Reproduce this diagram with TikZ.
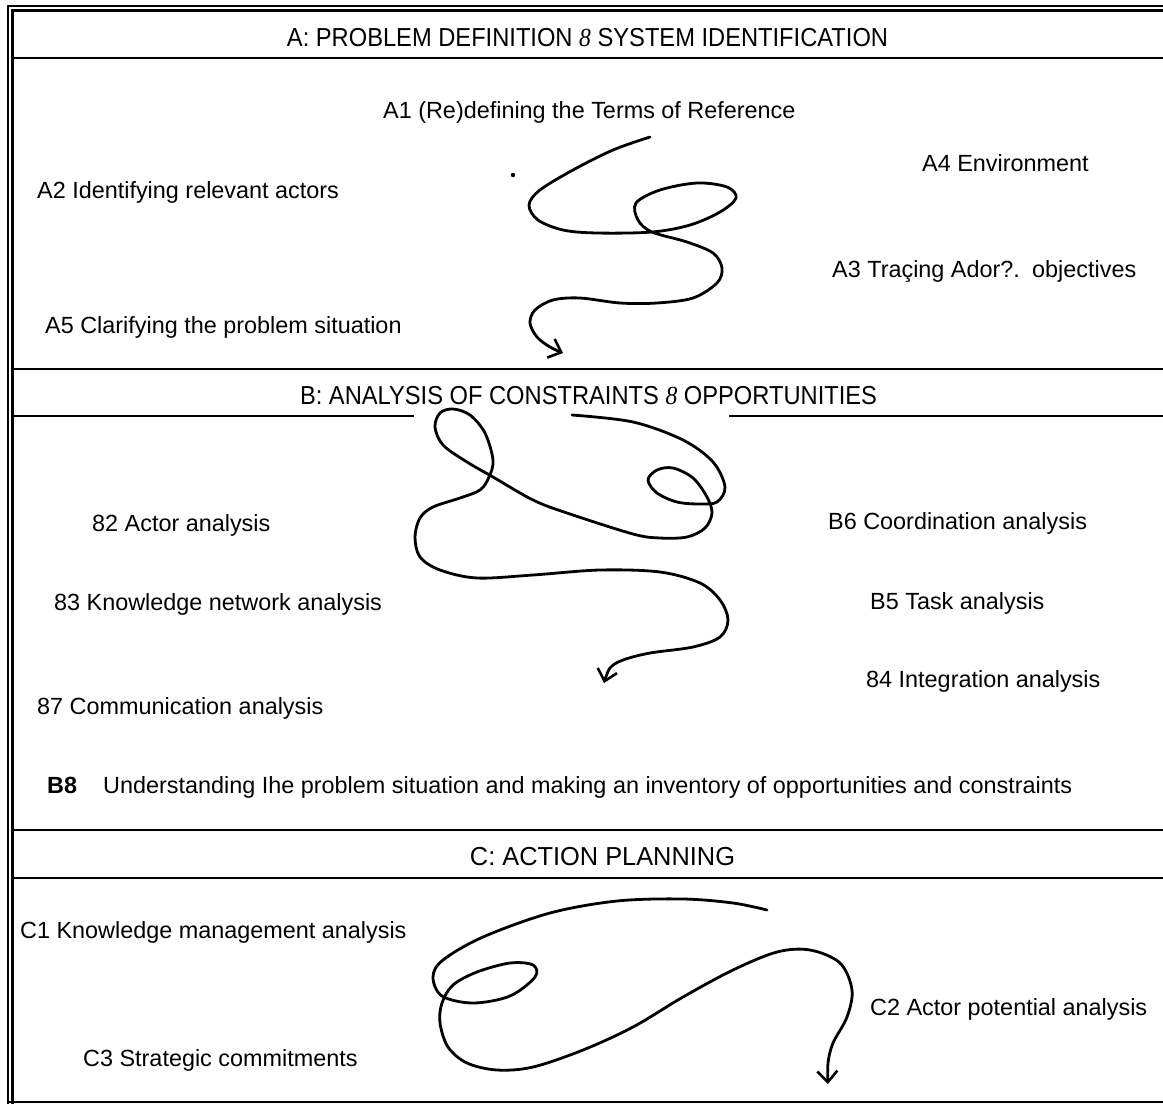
\documentclass[tikz,border=0pt]{standalone}
\usepackage{fontspec}
\setmainfont{Liberation Sans}
\newfontfamily\serifit{Liberation Serif}
\usetikzlibrary{arrows.meta}
\newcommand\lab{\fontsize{23.4}{27}\selectfont}
\newcommand\hd[2]{\resizebox{#1}{\height}{\fontsize{26}{30}\selectfont #2}}
\newcommand\eit{{\serifit\itshape 8}}
\tikzset{
  frame/.style={line width=2.3pt, line cap=rect},
  lbl/.style={anchor=base west, inner sep=0pt, font=\lab},
  hdr/.style={anchor=center, inner sep=0pt},
  squiggle/.style={line width=2.8pt, line cap=round, line join=round,
    -{Straight Barb[length=11pt,width=20pt,line width=2.6pt]}}
}
\begin{document}
\begin{tikzpicture}[x=1pt,y=-1pt]
\useasboundingbox (0,0) rectangle (1163,1104);
\fill[white] (0,0) rectangle (1163,1104);
% frame lines
\draw[frame] (8,1104) -- (8,6) -- (1163,6);
\draw[frame] (12.5,1104) -- (12.5,10.5) -- (1163,10.5);
\draw[frame] (12.5,58) -- (1163,58);
\draw[frame] (12.5,369) -- (1163,369);
\draw[frame] (12.5,416) -- (413,416);
\draw[frame] (730,416) -- (1163,416);
\draw[frame] (12.5,830) -- (1163,830);
\draw[frame] (12.5,878) -- (1163,878);
\draw[frame] (8,1102) -- (1163,1102);
% headers
\node[hdr] (hA) at (587.5,38) {\hd{601pt}{A: PROBLEM DEFINITION \eit\ SYSTEM IDENTIFICATION}};
\node[hdr] (hB) at (588.5,396) {\hd{577pt}{B: ANALYSIS OF CONSTRAINTS \eit\ OPPORTUNITIES}};
\node[hdr] (hC) at (602.5,857) {\hd{265pt}{C: ACTION PLANNING}};
% section A labels
\node[lbl] (a1) at (383,118) {A1 (Re)defining the Terms of Reference};
\node[lbl] (a2) at (37,198) {A2 Identifying relevant actors};
\node[lbl] (a4) at (922,171) {A4 Environment};
\node[lbl] (a3) at (832,277) {A3 Traçing Ador?.};
\node[lbl] (a3b) at (1032,277) {objectives};
\node[lbl] (a5) at (45,333) {A5 Clarifying the problem situation};
\fill (513,175) circle (2.2);
% section B labels
\node[lbl] (b2) at (92,531) {82 Actor analysis};
\node[lbl] (b3) at (54,610) {83 Knowledge network analysis};
\node[lbl] (b7) at (37,714) {87 Communication analysis};
\node[lbl] (b6) at (828,529) {B6 Coordination analysis};
\node[lbl] (b5) at (870,609) {B5 Task analysis};
\node[lbl] (b4) at (866,687) {84 Integration analysis};
\node[lbl] (b8) at (47,793) {\bfseries B8};
\node[lbl] (b8t) at (103,793) {Understanding Ihe problem situation and making an inventory of opportunities and constraints};
% section C labels
\node[lbl] (c1) at (20,938) {C1 Knowledge management analysis};
\node[lbl] (c2) at (870,1015) {C2 Actor potential analysis};
\node[lbl] (c3) at (83,1066) {C3 Strategic commitments};
% squiggle A
\draw[squiggle] plot[smooth, tension=0.55] coordinates {
 (650,137) (613,150) (573,170) (540,190) (529,205) (538,220) (563,230) (597,233)
 (652,232) (690,225) (720,212) (736,198) (727,187) (697,183) (660,190) (636,203)
 (638,220) (652,232) (687,242) (713,253) (722,268) (717,283) (693,298) (657,303)
 (620,303) (580,298) (553,300) (535,310) (530,323) (537,337) (550,347) (563,353)};
% squiggle B
\draw[squiggle] plot[smooth, tension=0.55] coordinates {
 (572,415) (633,422) (683,440) (713,462) (725,487) (717,502) (700,504) (677,502)
 (657,493) (648,480) (657,470) (673,468) (693,478) (707,497) (712,513) (705,528)
 (687,537) (660,538) (633,534) (567,513) (533,500) (493,477) (467,462) (443,445)
 (435,427) (440,413) (453,409) (470,415) (485,433) (493,460) (489,477) (480,490)
 (460,498) (433,507) (420,518) (415,537) (420,557) (440,570) (477,578) (533,575)
 (600,570) (660,572) (700,583) (720,600) (728,620) (720,637) (693,647) (650,653)
 (623,660) (610,668) (604,683)};
% squiggle C
\draw[squiggle] plot[smooth, tension=0.55] coordinates {
 (767,910) (733,903) (683,899) (617,901) (550,913) (483,937) (443,960) (433,977)
 (442,996) (473,1003) (510,996) (535,977) (533,965) (510,963) (477,972) (453,985)
 (442,1003) (440,1023) (448,1047) (467,1063) (497,1070) (533,1067) (583,1050)
 (633,1027) (683,997) (733,970) (777,952) (810,950) (840,963) (852,990) (847,1017)
 (833,1043) (828,1063) (828,1084)};
\end{tikzpicture}
\end{document}
